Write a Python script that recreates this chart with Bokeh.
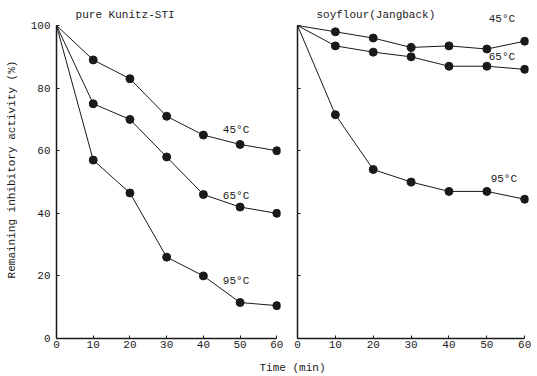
from bokeh.plotting import figure
from bokeh.layouts import row, column
from bokeh.models import Range1d, Label, FixedTicker
from bokeh.embed import file_html
from bokeh.resources import INLINE

times = [0, 10, 20, 30, 40, 50, 60]
sti_45 = [100, 89, 83, 71, 65, 62, 60]
sti_65 = [100, 75, 70, 58, 46, 42, 40]
sti_95 = [100, 57, 46.5, 26, 20, 11.5, 10.5]
soy_45 = [100, 98, 96, 93, 93.5, 92.5, 95]
soy_65 = [100, 93.5, 91.5, 90, 87, 87, 86]
soy_95 = [100, 71.5, 54, 50, 47, 47, 44.5]
x_ticks = [0, 10, 20, 30, 40, 50, 60]
y_ticks = [0, 20, 40, 60, 80, 100]
temps = ["45\u00b0C", "65\u00b0C", "95\u00b0C"]

FONT = "Liberation Mono"
INK = "#1a1a1a"


def panel(title, title_x, series, label_pos, width, mb_left, mb_right, show_ylabels):
    p = figure(width=width, height=356, output_backend="svg", toolbar_location=None,
               title=None,
               x_range=Range1d(0, 61), y_range=Range1d(0, 108),
               min_border_left=mb_left, min_border_right=mb_right,
               min_border_top=0, min_border_bottom=18)
    p.outline_line_color = None
    p.grid.visible = False
    for ax in (p.xaxis[0], p.yaxis[0]):
        ax.axis_line_color = INK
        ax.axis_line_width = 1.5
        ax.major_tick_in = 3
        ax.major_tick_out = 0
        ax.minor_tick_in = 3
        ax.minor_tick_out = 0
        ax.minor_tick_line_color = INK
        ax.major_tick_line_color = INK
        ax.major_label_text_font = FONT
        ax.major_label_text_font_size = "11px"
        ax.major_label_text_color = INK
    p.xaxis.ticker = FixedTicker(ticks=x_ticks, minor_ticks=[])
    p.xaxis.bounds = (0, 60)
    p.xaxis.major_label_standoff = 2
    p.yaxis.bounds = (0, 100)
    if show_ylabels:
        p.yaxis.ticker = FixedTicker(ticks=y_ticks, minor_ticks=[])
        p.yaxis.major_label_standoff = 6
        p.yaxis.axis_label = "Remaining inhibitory activity (%)"
        p.yaxis.axis_label_text_font = FONT
        p.yaxis.axis_label_text_font_size = "11px"
        p.yaxis.axis_label_text_font_style = "normal"
        p.yaxis.axis_label_text_color = INK
        p.yaxis.axis_label_standoff = 10
    else:
        # unlabeled inward ticks only
        p.yaxis.ticker = FixedTicker(ticks=[], minor_ticks=y_ticks[1:])
    p.add_layout(Label(x=title_x, y=103.5, text=title, text_font=FONT, text_font_size="11px",
                       text_color=INK, text_baseline="middle", text_align="left"))
    for ys, (lx, ly), t in zip(series, label_pos, temps):
        p.line(times, ys, line_color=INK, line_width=1)
        p.scatter(times[1:], ys[1:], size=8, fill_color=INK, line_color=INK)
        p.add_layout(Label(x=lx, y=ly, text=t, text_font=FONT, text_font_size="11px",
                           text_color=INK, text_baseline="middle", text_align="left"))
    return p


p1 = panel("pure Kunitz-STI", 5.2, [sti_45, sti_65, sti_95],
           [(45.3, 66.5), (45.3, 45.5), (45.3, 18.5)], 286, 56, 6, True)
p2 = panel("soyflour(Jangback)", 5.0, [soy_45, soy_65, soy_95],
           [(50.5, 102.2), (50.5, 89.8), (51, 51)], 251, 11, 9, False)

p3 = figure(width=537, height=19, output_backend="svg", toolbar_location=None,
            title=None,
            x_range=Range1d(0, 537), y_range=Range1d(0, 19),
            x_axis_type=None, y_axis_type=None,
            min_border_left=0, min_border_right=0, min_border_top=0, min_border_bottom=0)
p3.outline_line_color = None
p3.grid.visible = False
p3.add_layout(Label(x=292, y=7.5, text="Time (min)", text_font=FONT, text_font_size="11px",
                    text_color=INK, text_baseline="middle", text_align="center"))

layout = column(row(p1, p2), p3)
open("out.html", "w").write(file_html(layout, INLINE))
